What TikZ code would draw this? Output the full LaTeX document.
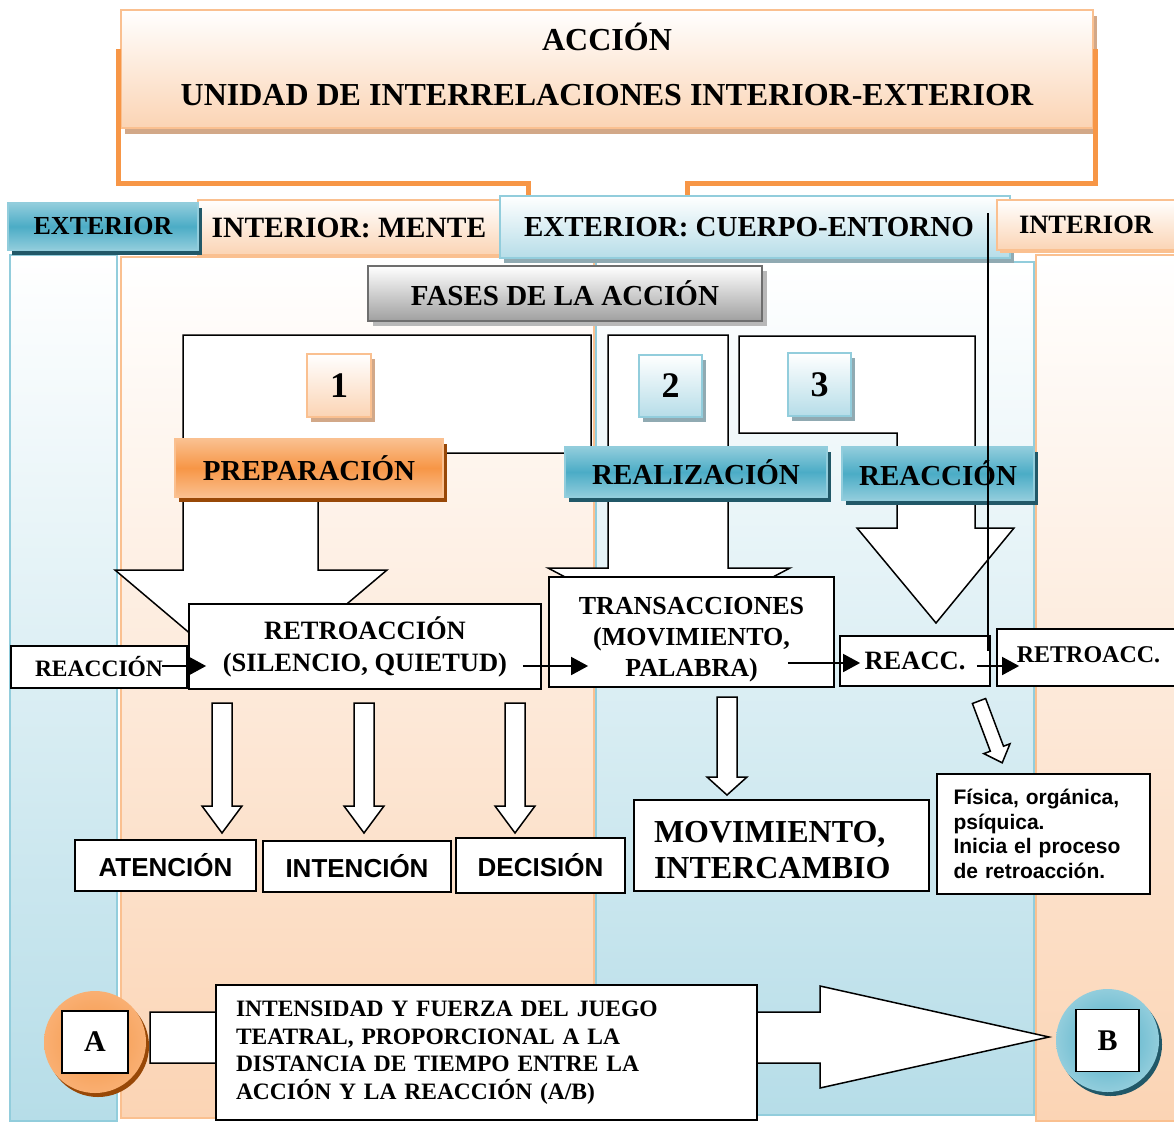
\documentclass[tikz,border=0pt]{standalone}
\usepackage{fontspec}
\setmainfont{Liberation Serif}
\setsansfont{Liberation Sans}
\usetikzlibrary{arrows.meta,shadows,calc}

\definecolor{orLine}{HTML}{F79646}
\definecolor{orLight}{HTML}{FBD4B4}
\definecolor{orBorder}{HTML}{FAC090}
\definecolor{orShade}{HTML}{D2A888}
\definecolor{orDark}{HTML}{984807}
\definecolor{blMid}{HTML}{4BACC6}
\definecolor{blLight}{HTML}{B6DDE8}
\definecolor{blBorder}{HTML}{92CDDC}
\definecolor{blDark}{HTML}{215868}
\definecolor{blShade}{HTML}{90AAB2}
\definecolor{grDark}{HTML}{6E6E6E}
\definecolor{grMid}{HTML}{A0A0A0}

\newcommand{\serfont}[2]{\bfseries\fontsize{#1}{#2}\selectfont}
\newcommand{\sanfont}[2]{\sffamily\bfseries\fontsize{#1}{#2}\selectfont}

\tikzset{
  mw/.style={minimum width=#1pt},
  mh/.style={minimum height=#1pt, inner sep=0pt},
  lightor/.style={draw=orBorder, line width=1.5pt, top color=white, bottom color=orLight},
  lightbl/.style={draw=blBorder, line width=1.5pt, top color=white, bottom color=blLight},
  numor/.style={lightor, general shadow={fill=orShade, shadow xshift=4pt, shadow yshift=-5pt}},
  numbl/.style={lightbl, general shadow={fill=blShade, shadow xshift=4pt, shadow yshift=-5pt}},
  darkor/.style={draw=orLine!60, line width=1.5pt, top color=orBorder, bottom color=orBorder, middle color=orLine,
    general shadow={fill=orDark, shadow xshift=4pt, shadow yshift=-5pt}},
  darkbl/.style={draw=blBorder, line width=1.5pt, top color=blBorder, bottom color=blBorder, middle color=blMid,
    general shadow={fill=blDark, shadow xshift=4pt, shadow yshift=-5pt}},
  graybox/.style={draw=grDark, line width=2pt, top color=white, bottom color=grMid,
    general shadow={fill=black!28, shadow xshift=5pt, shadow yshift=-5pt}},
  plain/.style={draw, line width=1.8pt, fill=white},
  block/.style={draw, line width=1.5pt, fill=white, line join=miter},
  conn/.style={line width=1.8pt, -{Triangle[length=17pt,width=18pt]}},
  bracket/.style={draw=orLine, line width=5pt},
}

\begin{document}
\begin{tikzpicture}[x=1pt,y=-1pt]
\useasboundingbox (0,0) rectangle (1174,1121);
% columnas
\draw[lightbl, line width=2pt] (10,255) rectangle (117,1121);
\draw[lightor, line width=2pt] (121,257) rectangle (594,1118);
\draw[lightbl, line width=2pt] (596,262) rectangle (1034,1115);
\draw[lightor, line width=2pt] (1036,255) rectangle (1180,1121);

% titulo
\node[lightor, mw=972, mh=118, general shadow={fill=orShade, shadow xshift=4pt, shadow yshift=-6pt},
  align=center, font=\serfont{32}{55}] (title) at (607,69)
  {ACCIÓN\\UNIDAD DE INTERRELACIONES INTERIOR-EXTERIOR\rule[-10pt]{0pt}{10pt}};

% cabeceras
\node[lightor, mw=302, mh=55, general shadow={fill=orBorder, shadow xshift=3pt, shadow yshift=-3pt}, font=\serfont{29.5}{29.5}] (mente) at (349,227.5) {INTERIOR: MENTE};
\node[darkbl, mw=190, mh=47, font=\serfont{26}{26}] (extl) at (103,226.5) {EXTERIOR};
\node[numbl, mw=510, mh=62, font=\serfont{29}{29}] (cuerpo) at (755,227) {EXTERIOR: CUERPO-ENTORNO\hspace*{12pt}};
\node[lightor, mw=186, mh=50, general shadow={fill=orBorder, shadow xshift=3pt, shadow yshift=-3pt}, font=\serfont{26.5}{26.5}] (intr) at (1090,225) {INTERIOR\hspace*{8pt}};

\coordinate (bl) at (528,183);
\coordinate (br) at (687,183);
\draw[bracket] ([xshift=-2pt,yshift=20pt]title.west) |- (bl) -- (bl |- cuerpo.north);
\draw[bracket] ([xshift=2pt,yshift=20pt]title.east) |- (br) -- (br |- cuerpo.north);

\node[graybox, mw=394, mh=55, font=\serfont{29}{29}] (fases) at (565,293.5) {FASES DE LA ACCIÓN};

% bloques de las fases
\draw[block] (251,685) -- (115,570) -- (183,570) -- (183,335) -- (591,335) -- (591,453)
  -- (318,453) -- (318,570) -- (387,570) -- cycle;
\draw[block] (608,335) -- (728,335) -- (728,568) -- (790,568) -- (669,632) -- (548,568)
  -- (608,568) -- cycle;
\draw[block] (739,336) -- (975,336) -- (975,528) -- (1014,528) -- (936,623) -- (857,528)
  -- (897,528) -- (897,433) -- (739,433) -- cycle;

\node[numor, mw=64, mh=63, font=\serfont{36}{36}] (n1) at (339,385.5) {1};
\node[numbl, mw=63, mh=62, font=\serfont{36}{36}] (n2) at (670.5,386) {2};
\node[numbl, mw=63, mh=63, font=\serfont{36}{36}] (n3) at (819.5,384.5) {3};

\node[darkor, mw=268, mh=58, font=\serfont{29}{29}] (prep) at (309,468) {PREPARACIÓN};
\node[darkbl, mw=262, mh=50, font=\serfont{29}{29}] (real) at (696,472) {REALIZACIÓN};
\node[darkbl, mw=192, mh=53, font=\serfont{29}{29}] (reac) at (938,473.5) {REACCIÓN};

% proceso
\node[plain, mw=352, mh=85, align=center, font=\serfont{26.5}{32}] (retro) at (365,646.5) {RETROACCIÓN\\(SILENCIO, QUIETUD)};
\node[plain, mw=176, mh=42, font=\serfont{23.5}{23.5}] (reacl) at (99,667) {REACCIÓN};
\node[plain, mw=285, mh=110, align=center, font=\serfont{26}{31}] (trans) at (691.5,632)
  {\rule{0pt}{33pt}TRANSACCIONES\\(MOVIMIENTO,\\PALABRA)};
\node[plain, mw=150, mh=50, font=\serfont{26.5}{26.5}] (reacc) at (915,661) {REACC.};
\node[plain, mw=183, mh=57, font=\serfont{24}{24}] (retroacc) at (1088.5,657.5) {RETROACC.\rule[-6pt]{0pt}{6pt}};

\coordinate (a1) at ($(reacl.east)+(-26,-1)$);
\draw[conn] (a1) -- ($(a1 -| retro.west)+(18,0)$);
\coordinate (a2) at ($(retro.east)+(-19,19.5)$);
\draw[conn] (a2) -- ($(a2 -| trans.west)+(40,0)$);
\coordinate (a3) at ($(trans.east)+(-47,31)$);
\draw[conn] (a3) -- ($(a3 -| reacc.west)+(21,0)$);
\coordinate (a4) at ($(reacc.east)+(-14,5)$);
\draw[conn] (a4) -- ($(a4 -| retroacc.west)+(23,0)$);

\coordinate (vtop) at (988,213);
\draw[line width=1.5pt] (vtop) -- ($(vtop |- reacc.north)+(0,16)$);

% flechas huecas
\foreach \c in {222,364,515}
  \draw[block] (\c-10,703) -- (\c+10,703) -- (\c+10,806) -- (\c+20,806) -- (\c,833)
    -- (\c-20,806) -- (\c-10,806) -- cycle;
\draw[block] (717,697) -- (737,697) -- (737,777) -- (747,777) -- (727,795) -- (707,777)
  -- (717,777) -- cycle;
\draw[block] (985.6,698.5) -- (1003.5,746.2) -- (1010,743.8) -- (1002.2,762.8) -- (983.8,753.6)
  -- (990.3,751.2) -- (972.4,703.5) -- cycle;

\node[plain, mw=181, mh=51, font=\sanfont{26}{26}] (aten) at (165.5,865.5) {ATENCIÓN};
\node[plain, mw=188, mh=51, font=\sanfont{26}{26}] (inten) at (357,866.5) {INTENCIÓN};
\node[plain, mw=169, mh=55, font=\sanfont{26}{26}] (deci) at (540.5,865.5) {DECISIÓN};
\node[plain, mw=295, mh=91, text width=255pt, inner xsep=20pt, align=left, font=\serfont{32}{36}] (movi) at (781.5,845.5)
  {\rule{0pt}{30pt}MOVIMIENTO,\\INTERCAMBIO};
\node[plain, mw=213, mh=120, text width=180pt, inner xsep=16.5pt, align=left, font=\sanfont{21}{24.7}] (fisi) at (1043.5,834)
  {Física, orgánica,\\psíquica.\\Inicia el proceso\\de retroacción.};

% A -> B
\draw[block] (150,1012) -- (820,1012) -- (820,986) -- (1049,1037) -- (820,1088) -- (820,1063)
  -- (150,1063) -- cycle;
\node[plain, mw=541, mh=135, text width=501pt, inner xsep=20pt, align=left, font=\serfont{23.5}{27.5}] (desc) at (486.5,1052.5)
  {INTENSIDAD Y FUERZA DEL JUEGO\\TEATRAL, PROPORCIONAL A LA\\DISTANCIA DE TIEMPO ENTRE LA\\ACCIÓN Y LA REACCIÓN (A/B)};
\node[circle, minimum size=102pt, inner color=orLine, outer color=orBorder!60!orLine,
  general shadow={fill=orDark, shadow xshift=3pt, shadow yshift=-4pt}] (ca) at (95,1042) {};
\node[plain, mw=66, mh=62, font=\serfont{30}{30}] (la) at (ca) {A};
\node[circle, minimum size=103pt, inner color=blMid, outer color=blBorder,
  general shadow={fill=blDark, shadow xshift=3pt, shadow yshift=-4pt}] (cb) at (1107.5,1040.5) {};
\node[plain, mw=63, mh=62, font=\serfont{30}{30}] (lb) at (cb) {B};
\end{tikzpicture}
\end{document}
